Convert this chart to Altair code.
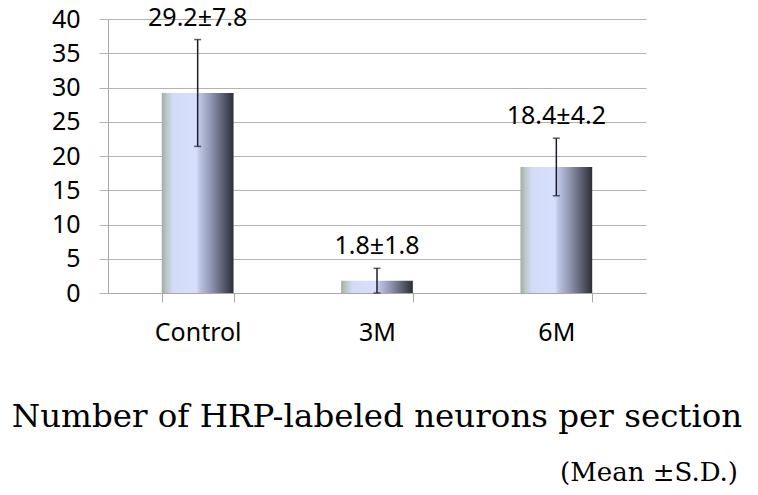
import altair as alt
import pandas as pd

# data
groups = ["Control", "3M", "6M"]
means = [29.2, 1.8, 18.4]
sds = [7.8, 1.8, 4.2]
value_labels = ["29.2±7.8", "1.8±1.8", "18.4±4.2"]
y_ticks = [0, 5, 10, 15, 20, 25, 30, 35, 40]
title_text = "Number of HRP-labeled neurons per section"
note_text = "(Mean ±S.D.)"

df = pd.DataFrame({
    "group": groups,
    "mean": means,
    "sd": sds,
    "label": value_labels,
})
df["lo"] = df["mean"] - df["sd"]
df["hi"] = df["mean"] + df["sd"]

SANS = "Noto Sans"
SERIF = "DejaVu Serif"

gradient = alt.Gradient(
    gradient="linear",
    x1=0, x2=1, y1=0, y2=0,
    stops=[
        alt.GradientStop(color="#9faea2", offset=0.0),
        alt.GradientStop(color="#b8c6c4", offset=0.06),
        alt.GradientStop(color="#d2dcf8", offset=0.16),
        alt.GradientStop(color="#d6e0fe", offset=0.48),
        alt.GradientStop(color="#bcc4e4", offset=0.53),
        alt.GradientStop(color="#8c92ac", offset=0.70),
        alt.GradientStop(color="#5c6072", offset=0.85),
        alt.GradientStop(color="#2c2e36", offset=1.0),
    ],
)

x_axis = alt.Axis(
    labelAngle=0,
    labelFont=SANS,
    labelFontSize=25,
    labelColor="#000000",
    labelPadding=18,
    tickBand="extent",
    tickSize=9,
    tickColor="#a8a8a8",
    domainColor="#a8a8a8",
    grid=False,
)
x_scale = alt.Scale(paddingInner=0.6, paddingOuter=0.3)

y_axis = alt.Axis(
    values=y_ticks,
    labelFont=SANS,
    labelFontSize=25,
    labelColor="#000000",
    labelPadding=19,
    labelOverlap=False,
    tickSize=9,
    tickColor="#b4b4b4",
    gridColor="#b4b4b4",
    domainColor="#a8a8a8",
)
y_scale = alt.Scale(domain=[0, 40], nice=False)


def X():
    return alt.X("group:N", sort=groups, title=None, scale=x_scale, axis=x_axis)


def Y(field):
    return alt.Y(field, title=None, scale=y_scale, axis=y_axis)


bars = alt.Chart(df).mark_bar(color=gradient).encode(x=X(), y=Y("mean:Q"))

err = alt.Chart(df).mark_rule(color="#1c1c2c", strokeWidth=1.5).encode(
    x=X(), y=Y("lo:Q"), y2="hi:Q"
)

caps_hi = alt.Chart(df).mark_tick(color="#1c1c2c", size=7, thickness=1.5).encode(
    x=X(), y=Y("hi:Q")
)
caps_lo = alt.Chart(df).mark_tick(color="#1c1c2c", size=7, thickness=1.5).encode(
    x=X(), y=Y("lo:Q")
)

labels = alt.Chart(df).mark_text(
    font=SANS, fontSize=25, color="#000000", baseline="alphabetic", dy=-14
).encode(x=X(), y=Y("hi:Q"), text="label:N")

title = alt.Chart(pd.DataFrame({"t": [title_text]})).mark_text(
    font=SERIF, fontSize=32.5, color="#000000", align="center", baseline="alphabetic"
).encode(x=alt.value(269), y=alt.value(408), text="t:N")

note = alt.Chart(pd.DataFrame({"t": [note_text]})).mark_text(
    font=SERIF, fontSize=26, color="#000000", align="right", baseline="alphabetic"
).encode(x=alt.value(630), y=alt.value(462), text="t:N")

chart = alt.layer(bars, err, caps_hi, caps_lo, labels, title, note).properties(
    width=538,
    height=274,
    background="white",
    autosize=alt.AutoSizeParams(type="none"),
    padding={"left": 100, "top": 11, "right": 104, "bottom": 194},
).configure_view(stroke=None)

chart.save("out.html", embed_options={"renderer": "svg", "actions": False})
